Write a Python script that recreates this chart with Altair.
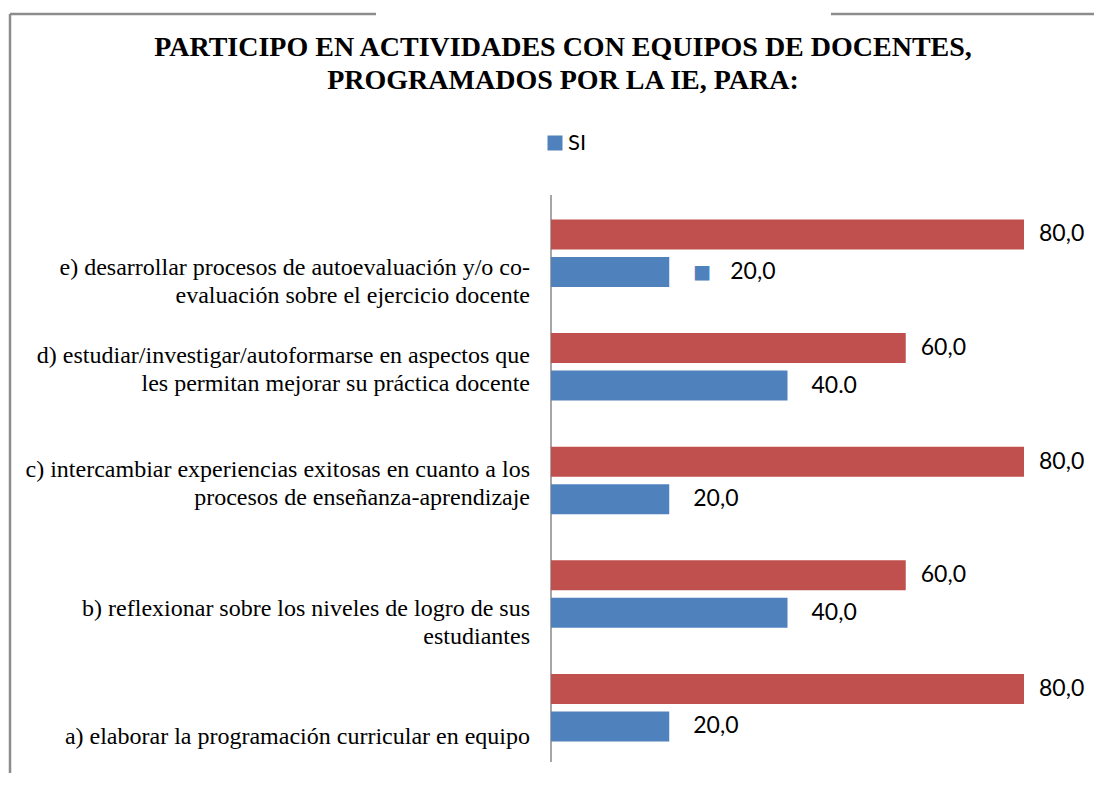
import altair as alt
import pandas as pd

# ---- data ----
keys = ["a", "b", "c", "d", "e"]
cat_labels = [
    "a) elaborar la programación curricular en equipo",
    "b) reflexionar sobre los niveles de logro de sus\nestudiantes",
    "c) intercambiar experiencias exitosas en cuanto a los\nprocesos de enseñanza-aprendizaje",
    "d) estudiar/investigar/autoformarse en aspectos que\nles permitan mejorar su práctica docente",
    "e) desarrollar procesos de autoevaluación y/o co-\nevaluación sobre el ejercicio docente",
]
no_values = [80, 60, 80, 60, 80]
si_values = [20, 40, 20, 40, 20]
no_text = ["80,0", "60,0", "80,0", "60,0", "80,0"]
si_text = ["20,0", "40,0", "20,0", "40.0", "20,0"]
title_lines = ["PARTICIPO EN ACTIVIDADES CON EQUIPOS DE DOCENTES,", "PROGRAMADOS POR LA IE, PARA:"]
red, blue = "#C0504D", "#4F81BD"

no_df = pd.DataFrame({"key": keys, "value": no_values, "label": no_text})
si_df = pd.DataFrame({"key": keys, "value": si_values, "label": si_text, "serie": ["SI"] * 5})
cats = pd.DataFrame({"key": keys, "text": cat_labels, "base": [0] * 5})
title_df = pd.DataFrame({"t": ["\n".join(title_lines)], "base": [0]})

W, H = 1086, 765
order = list(reversed(keys))

xs = alt.Scale(domain=[-91.84, 91.84], nice=False, zero=False)
ys = alt.Scale(domain=order, paddingInner=0.266, paddingOuter=1, align=0.897)

X = alt.X("value:Q", scale=xs, axis=None)
XB = alt.X("base:Q", scale=xs, axis=None)
Y = alt.Y("key:N", scale=ys, axis=None)

bars_no = alt.Chart(no_df).mark_bar(height=30, yOffset=-19, color=red).encode(x=X, y=Y)

bars_si = alt.Chart(si_df).mark_bar(height=30, yOffset=18.5).encode(
    x=X, y=Y,
    color=alt.Color("serie:N", scale=alt.Scale(domain=["SI"], range=[blue]),
                    legend=alt.Legend(title=None, orient="none", legendX=536, legendY=124,
                                      symbolType="square", symbolSize=225,
                                      labelFont="Lato", labelFontSize=22,
                                      labelColor="#000000", labelOffset=2)),
)

lab_no = alt.Chart(no_df).mark_text(
    align="left", baseline="middle", dx=15, dy=-19, font="Lato", fontSize=23, color="#000000"
).encode(x=X, y=Y, text="label:N")

lab_si = alt.Chart(si_df).transform_filter("datum.key != 'e'").mark_text(
    align="left", baseline="middle", dx=24, dy=18.5, font="Lato", fontSize=23, color="#000000"
).encode(x=X, y=Y, text="label:N")

lab_si_e = alt.Chart(si_df).transform_filter("datum.key == 'e'").mark_text(
    align="left", baseline="middle", dx=61, dy=18.5, font="Lato", fontSize=23, color="#000000"
).encode(x=X, y=Y, text="label:N")

mark_si_e = alt.Chart(si_df).transform_filter("datum.key == 'e'").mark_text(
    align="center", baseline="middle", dx=33, dy=18.5, font="DejaVu Sans", fontSize=19, color=blue
).encode(x=X, y=Y, text=alt.value("■"))

cat_style = dict(align="right", baseline="middle", dx=-21, lineBreak="\n", lineHeight=28,
                 font="Liberation Serif", fontSize=24, color="#000000")

cat_eb = alt.Chart(cats).transform_filter("datum.key == 'e' || datum.key == 'b'").mark_text(
    dy=15, **cat_style
).encode(x=XB, y=Y, text="text:N")

cat_dc = alt.Chart(cats).transform_filter("datum.key == 'd' || datum.key == 'c'").mark_text(
    dy=-11, **cat_style
).encode(x=XB, y=Y, text="text:N")

cat_a = alt.Chart(cats).transform_filter("datum.key == 'a'").mark_text(
    dy=29, **cat_style
).encode(x=XB, y=Y, text="text:N")

axis_line = alt.Chart(title_df).mark_rule(color="#888888", strokeWidth=1.5).encode(
    x=XB, y=alt.value(187), y2=alt.value(754)
)

frame_left = alt.Chart(title_df).mark_rule(color="#8c8c8c", strokeWidth=2.5).encode(
    x=alt.value(2), y=alt.value(6), y2=alt.value(H)
)
frame_top1 = alt.Chart(title_df).mark_rule(color="#8c8c8c", strokeWidth=2.5).encode(
    x=alt.value(2), x2=alt.value(368), y=alt.value(6)
)
frame_top2 = alt.Chart(title_df).mark_rule(color="#8c8c8c", strokeWidth=2.5).encode(
    x=alt.value(823), x2=alt.value(W), y=alt.value(6)
)

title = alt.Chart(title_df).mark_text(
    align="center", baseline="middle", lineBreak="\n", lineHeight=33,
    font="Liberation Serif", fontWeight="bold", fontSize=28, color="#000000"
).encode(x=alt.value(555), y=alt.value(40), text="t:N")

chart = alt.layer(
    frame_left, frame_top1, frame_top2, title, axis_line,
    bars_no, bars_si, lab_no, lab_si, lab_si_e, mark_si_e, cat_eb, cat_dc, cat_a
).properties(
    width=W, height=H, padding=0, autosize=alt.AutoSizeParams(type="none"),
    background="#ffffff"
).configure_view(stroke=None)

chart.save("out.html", embed_options={"renderer": "svg", "actions": False})
